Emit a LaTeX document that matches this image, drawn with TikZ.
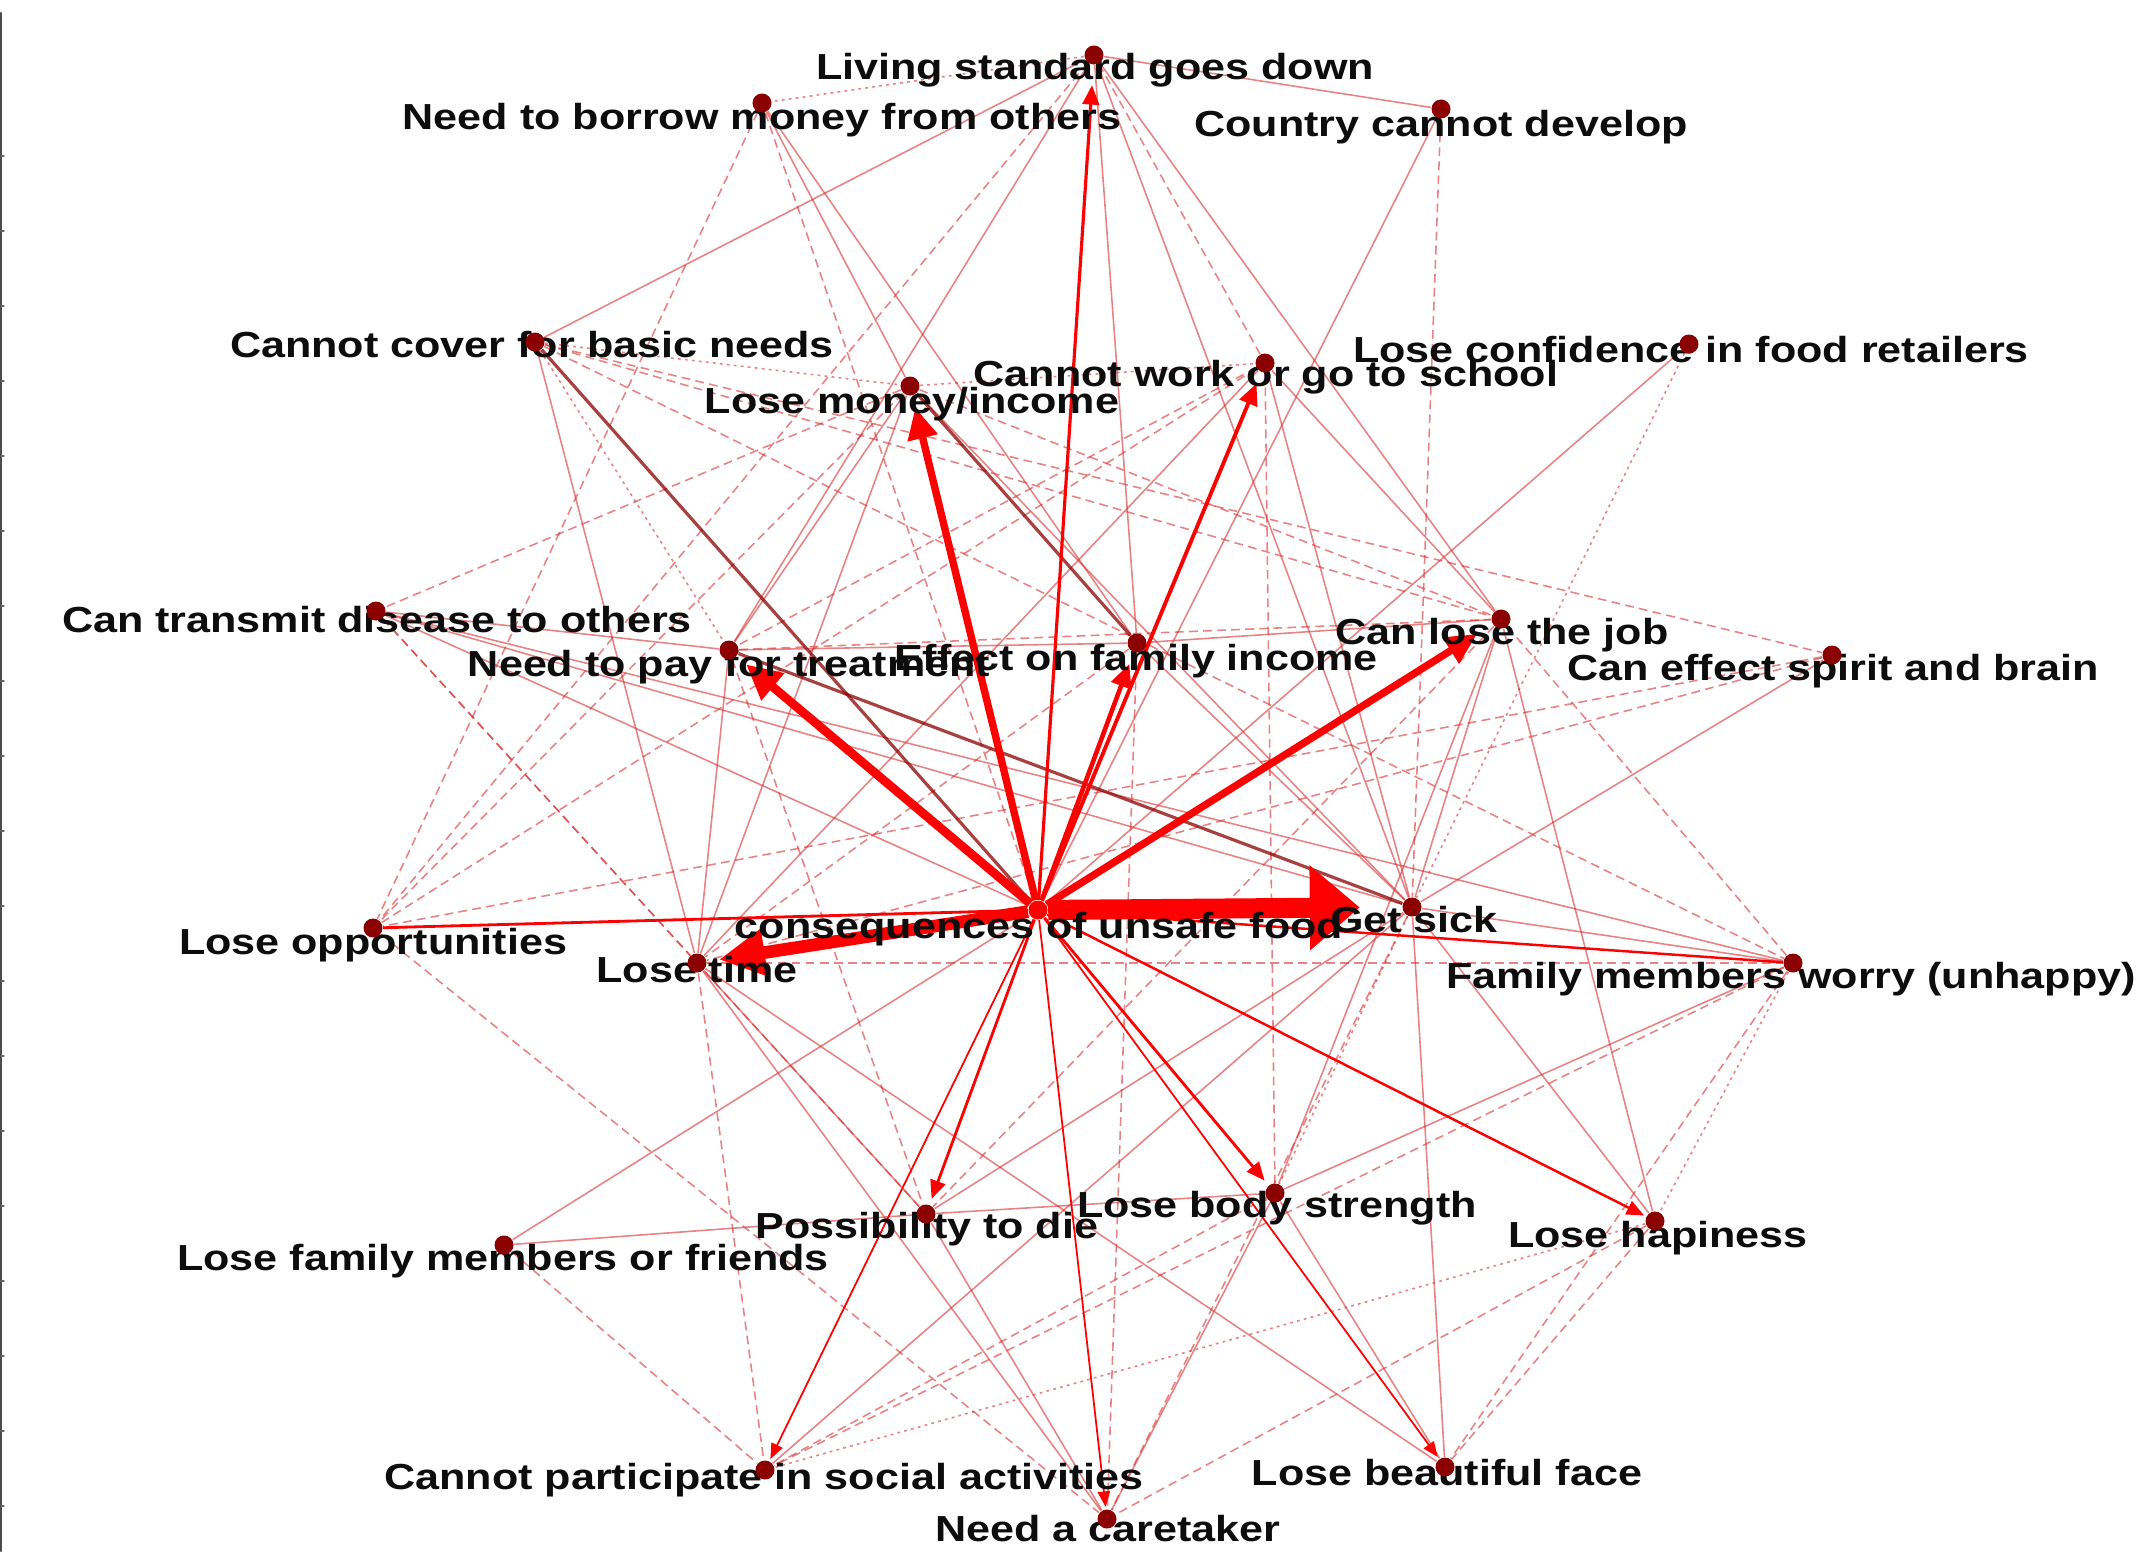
\documentclass[tikz,border=0pt]{standalone}
\usepackage{fontspec}
\newfontfamily\lblfont{Liberation Sans}[FakeStretch=1.19]
\usetikzlibrary{arrows.meta,backgrounds}
\definecolor{dotred}{HTML}{8B0000}
\definecolor{linkred}{HTML}{D93030}
\begin{document}
\begin{tikzpicture}[x=0.01cm, y=-0.01cm, line join=round, line cap=round,
  lbl/.style={anchor=base, inner sep=0pt, text=black!95, font=\lblfont\bfseries\fontsize{10.3}{12}\selectfont},
  dot/.style={circle, fill=dotred, inner sep=0pt, minimum size=0.19cm},
  link/.style={draw=linkred, line width=0.45pt, opacity=0.6},
  dashlink/.style={link, dash pattern=on 2.5pt off 1.5pt},
  dotlink/.style={link, dash pattern=on 0.8pt off 1.2pt},
  darklink/.style={draw=red!55!black, line width=0.9pt, opacity=0.75},
  arr/.style={draw=red, line width=#1, shorten >=0.12cm, -{Triangle[length=3pt 2.8, width=2pt 3]}},
  arr/.default=0.6pt]
\useasboundingbox (0,0) rectangle (2140,1551);
% frame at the left edge
\draw[black!70, line width=0.6pt] (1,13) -- (1,1551);
\foreach \y in {156,231,...,1551} \draw[black!60, line width=0.4pt] (1,\y) -- (4,\y);

% labels
\node[lbl] (ls-t) at (1095,79) {Living standard goes down};
\node[lbl] (bm-t) at (762,129) {Need to borrow money from others};
\node[lbl] (cd-t) at (1441,136) {Country cannot develop};
\node[lbl] (bn-t) at (532,357) {Cannot cover for basic needs};
\node[lbl] (lm-t) at (912,413) {Lose money/income};
\node[lbl] (cw-t) at (1266,386) {Cannot work or go to school};
\node[lbl] (lc-t) at (1691,362) {Lose confidence in food retailers};
\node[lbl] (td-t) at (377,632) {Can transmit disease to others};
\node[lbl] (pt-t) at (729,676) {Need to pay for treatment};
\node[lbl] (fi-t) at (1136,670) {Effect on family income};
\node[lbl] (lj-t) at (1502,644) {Can lose the job};
\node[lbl] (sb-t) at (1833,680) {Can effect spirit and brain};
\node[lbl] (lo-t) at (373,954) {Lose opportunities};
\node[lbl] (lt-t) at (697,982) {Lose time};
\node[lbl] (cu-t) at (1039,938) {consequences of unsafe food};
\node[lbl] (gs-t) at (1414,932) {Get sick};
\node[lbl] (fw-t) at (1791,988) {Family members worry (unhappy)};
\node[lbl] (pd-t) at (927,1238) {Possibility to die};
\node[lbl] (bs-t) at (1277,1217) {Lose body strength};
\node[lbl] (lh-t) at (1658,1247) {Lose hapiness};
\node[lbl] (lf-t) at (503,1270) {Lose family members or friends};
\node[lbl] (sa-t) at (764,1489) {Cannot participate in social activities};
\node[lbl] (bf-t) at (1447,1485) {Lose beautiful face};
\node[lbl] (nc-t) at (1108,1541) {Need a caretaker};

% vertices
\node[dot] (ls) at (1094,55) {};
\node[dot] (bm) at (762,103) {};
\node[dot] (cd) at (1441,109) {};
\node[dot] (bn) at (535,342) {};
\node[dot] (lm) at (910,386) {};
\node[dot] (cw) at (1265,363) {};
\node[dot] (lc) at (1689,344) {};
\node[dot] (td) at (376,611) {};
\node[dot] (pt) at (729,650) {};
\node[dot] (fi) at (1137,643) {};
\node[dot] (lj) at (1501,619) {};
\node[dot] (sb) at (1832,655) {};
\node[dot] (lo) at (373,928) {};
\node[dot] (lt) at (697,963) {};
\node[dot, fill=red] (cu) at (1038,910) {};
\node[dot] (gs) at (1412,907) {};
\node[dot] (fw) at (1793,963) {};
\node[dot] (pd) at (926,1214) {};
\node[dot] (bs) at (1275,1193) {};
\node[dot] (lh) at (1655,1221) {};
\node[dot] (lf) at (504,1245) {};
\node[dot] (sa) at (765,1470) {};
\node[dot] (bf) at (1445,1467) {};
\node[dot] (nc) at (1107,1519) {};

\begin{scope}[on background layer]
% thin links
\foreach \a/\b in {ls/cd, ls/bn, ls/pt, ls/fi, ls/lj, ls/gs, cd/cu, bm/lm, bm/fi,
  bn/lt, lm/gs, lm/pt, lm/lt, cw/lj, cw/gs, cw/lt, lc/cu, td/gs, td/pt, td/cu,
  pt/fi, pt/lt, fi/gs, fi/lj, lj/gs, lj/lh, lj/bs, sb/gs, lt/nc, lt/pd, lt/bf,
  gs/lh, gs/bf, gs/pd, gs/fw, fw/bs, fw/td, pd/lf, pd/nc, pd/bs, bs/nc, bs/bf,
  lf/cu, gs/sa}
  \draw[link] (\a) -- (\b);
\foreach \a/\b in {ls/cw, ls/lo, cd/gs, bm/cu, bm/lo, bn/sb, bn/lj, bn/fw, lm/td,
  lm/lj, lm/lo, cw/pt, cw/lo, cw/bs, td/pd, td/lt, pt/pd, pt/lj, fi/nc, fi/lt,
  lj/fw, lj/pd, sb/lt, sb/lo, lo/nc, lt/sa, lt/fw, gs/nc, fw/bf, fw/sa, bs/sa,
  lh/bf, lh/nc, lf/sa}
  \draw[dashlink] (\a) -- (\b);
\foreach \a/\b in {ls/bm, bn/lm, bn/pt, lm/cw, lc/gs, gs/bs, fw/lh, lh/sa}
  \draw[dotlink] (\a) -- (\b);
\foreach \a/\b in {pt/gs, lm/fi, bn/cu}
  \draw[darklink] (\a) -- (\b);
\draw[draw=red, line width=0.8pt] (cu) -- (lo);
\draw[draw=red, line width=0.7pt] (cu) -- (fw);
% arrows out of the centre
\draw[arr=5.7pt, shorten >=0.42cm, -{Triangle[length=0.5cm, width=0.82cm]}] (cu) -- (gs);
\draw[arr=3.6pt] (cu) -- (lt);
\draw[arr=2.5pt] (cu) -- (pt);
\draw[arr=2.1pt] (cu) -- (lm);
\draw[arr=2.1pt, shorten >=0.18cm] (cu) -- (lj);
\draw[arr=1.3pt] (cu) -- (fi);
\draw[arr=1.1pt] (cu) -- (cw);
\draw[arr=0.9pt, shorten >=0.2cm] (cu) -- (ls);
\draw[arr=0.8pt, shorten >=0.06cm] (cu) -- (pd);
\draw[arr=0.8pt, shorten >=0.06cm] (cu) -- (bs);
\draw[arr=0.7pt, shorten >=0.02cm] (cu) -- (lh);
\draw[arr=0.5pt, shorten >=0.02cm] (cu) -- (sa);
\draw[arr=0.5pt, shorten >=0.02cm] (cu) -- (nc);
\draw[arr=0.5pt, shorten >=0.02cm] (cu) -- (bf);
\end{scope}
\end{tikzpicture}
\end{document}
